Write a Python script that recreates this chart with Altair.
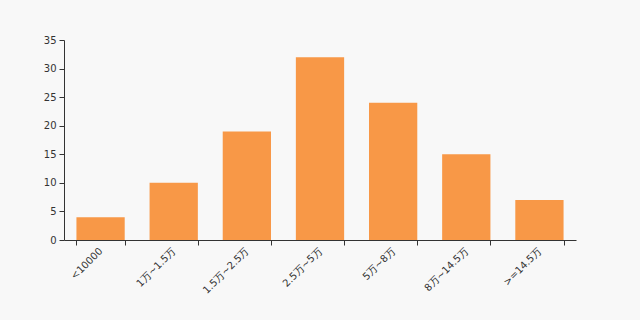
import altair as alt
import pandas as pd

categories = ["<10000", "1万~1.5万", "1.5万~2.5万", "2.5万~5万", "5万~8万", "8万~14.5万", ">=14.5万"]
values = [4, 10, 19, 32, 24, 15, 7]

df = pd.DataFrame({"cat": categories, "val": values})

chart = alt.Chart(df).mark_bar(color="#f89847").encode(
    x=alt.X("cat:N", sort=categories, title=None,
            scale=alt.Scale(paddingInner=0.34, paddingOuter=0.17),
            axis=alt.Axis(labelAngle=-45, labelAlign="right", labelBaseline="middle",
                          bandPosition=0, tickBand="extent", domainColor="#333", tickColor="#333",
                          labelColor="#333", labelFont="DejaVu Sans", labelFontSize=10,
                          labelPadding=4, tickSize=5)),
    y=alt.Y("val:Q", title=None,
            scale=alt.Scale(domain=[0, 35]),
            axis=alt.Axis(values=[0, 5, 10, 15, 20, 25, 30, 35], grid=False,
                          domainColor="#333", tickColor="#333", labelColor="#333",
                          labelFont="DejaVu Sans", labelFontSize=10, tickSize=5, labelPadding=3)),
).properties(
    width=512, height=200,
    background="#f8f8f8",
    autosize=alt.AutoSizeParams(type="none"),
    padding={"left": 64, "top": 40, "right": 64, "bottom": 80},
).configure_view(stroke=None)

chart.save("out.html", embed_options={"renderer": "svg", "actions": False})
